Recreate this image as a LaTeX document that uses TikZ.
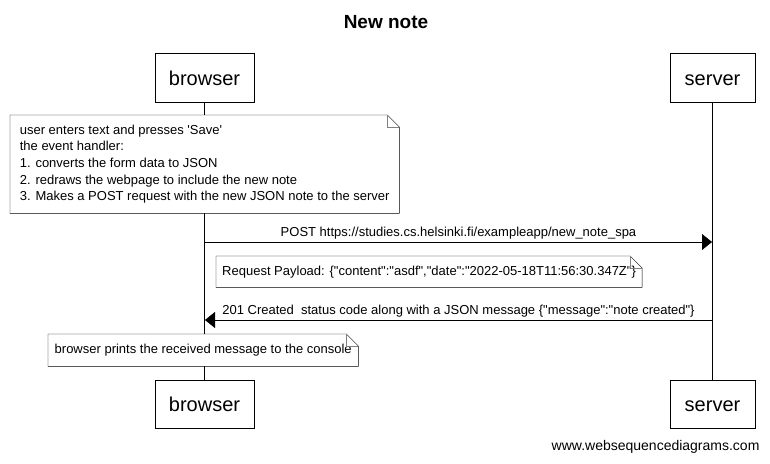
\documentclass[tikz,border=0pt]{standalone}
\usepackage{fontspec}
\setmainfont{Liberation Sans}[Ligatures=TeXOff]
\usetikzlibrary{arrows.meta}
\tikzset{
  actor/.style={draw, fill=white, inner sep=0pt, text height=17pt, text depth=2pt,
    font=\fontsize{20}{24}\selectfont},
  note/.style={fill=white, inner xsep=6pt, inner ysep=0pt, align=left, anchor=north west,
    font=\fontsize{13}{16.7}\selectfont},
  msg/.style={-{Triangle[length=10pt,width=16pt]}},
  msglabel/.style={above, inner sep=3pt, font=\fontsize{13}{15}\selectfont},
}
\newcommand{\foldnote}[1]{%
  \draw (#1.north west) -- ([xshift=-12pt]#1.north east) -- ([yshift=-12pt]#1.north east)
    -- (#1.south east) -- (#1.south west) -- cycle;
  \draw[gray] ([xshift=-12pt]#1.north east) -- ([xshift=-12pt,yshift=-12pt]#1.north east)
    -- ([yshift=-12pt]#1.north east);
}
\begin{document}
\begin{tikzpicture}[x=1pt,y=-1pt]
      \useasboundingbox (0,0) rectangle (770,463);
      \node[font=\fontsize{19}{22}\bfseries] (title) at (386,22) {New note};
      \node[actor, minimum width=99pt, minimum height=49pt] (browserTop) at (204.5,77.5) {browser};
      \node[actor, minimum width=85pt, minimum height=49pt] (serverTop) at (712.5,77.5) {server};
      \node[actor, minimum width=99pt, minimum height=48pt] (browserBot) at (204.5,404) {browser};
      \node[actor, minimum width=85pt, minimum height=48pt] (serverBot) at (712.5,404) {server};
      \draw (browserTop) -- (browserBot);
      \draw (serverTop) -- (serverBot);
      \node[note, minimum width=389pt, minimum height=98pt] (noteSave) at (10,115)
        {user enters text and presses 'Save'\\the event handler:\\1. converts the form data to JSON\\
         2. redraws the webpage to include the new note\\3. Makes a POST request with the new JSON note to the server};
      \foldnote{noteSave}
      \coordinate (postB) at (205,242);
      \coordinate (postS) at (712,242);
      \draw[msg] (postB) -- node[msglabel] {POST https://studies.cs.helsinki.fi/exampleapp/new\_note\_spa} (postS);
      \node[note, minimum width=425pt, minimum height=31pt] (notePayload) at (216,256)
        {Request Payload: \{"content":"asdf","date":"2022-05-18T11:56:30.347Z"\}};
      \foldnote{notePayload}
      \coordinate (respS) at (712,320);
      \coordinate (respB) at (205,320);
      \draw[msg] (respS) -- node[msglabel] {201 Created\ \ status code along with a JSON message \{"message":"note created"\}} (respB);
      \node[note, minimum width=310pt, minimum height=32pt] (noteConsole) at (48,334)
        {browser prints the received message to the console};
      \foldnote{noteConsole}
      \node[font=\fontsize{14}{16}\selectfont, anchor=east] (footer) at (763,447) {www.websequencediagrams.com};
\end{tikzpicture}
\end{document}
